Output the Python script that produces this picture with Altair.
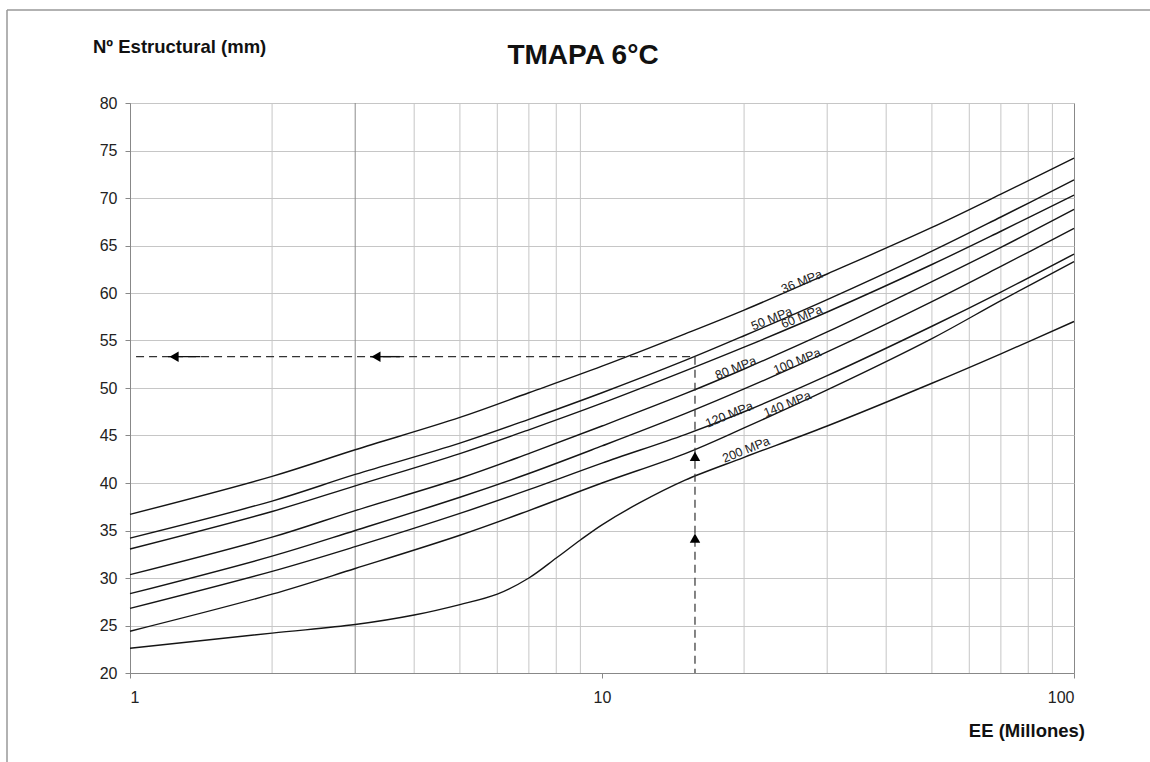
import altair as alt
import pandas as pd

# ---- data ----
EE = [1, 2, 3, 5, 7, 10, 15, 20, 30, 50, 70, 100]
MPA_36 = [36.7, 40.7, 43.5, 46.9, 49.5, 52.3, 55.7, 58.2, 62.0, 66.9, 70.4, 74.2]
MPA_50 = [34.2, 38.1, 40.9, 44.2, 46.7, 49.5, 52.9, 55.5, 59.3, 64.4, 68.0, 71.9]
MPA_60 = [33.05, 37.0, 39.7, 43.1, 45.6, 48.4, 51.8, 54.3, 58.0, 63.0, 66.5, 70.3]
MPA_80 = [30.35, 34.3, 37.1, 40.5, 43.1, 46.0, 49.4, 52.0, 55.9, 61.2, 64.8, 68.8]
MPA_100 = [28.35, 32.3, 35.0, 38.5, 41.0, 43.9, 47.3, 49.9, 53.8, 59.1, 62.8, 66.8]
MPA_120 = [26.8, 30.7, 33.3, 36.8, 39.3, 42.1, 45.1, 47.5, 51.3, 56.5, 60.1, 64.1]
MPA_140 = [24.4, 28.3, 31.0, 34.5, 37.1, 40.0, 43.1, 45.8, 49.8, 55.2, 59.2, 63.3]
EE_200 = [1, 2, 3, 4, 5, 6, 7, 8, 9, 10, 12, 15, 20, 30, 50, 70, 100]
MPA_200 = [22.6, 24.2, 25.1, 26.1, 27.2, 28.3, 30.0, 32.1, 34.0, 35.6, 37.9, 40.3,
           42.7, 46.0, 50.5, 53.6, 57.0]

LABELS = ["36 MPa", "50 MPa", "60 MPa", "80 MPa", "100 MPa", "120 MPa", "140 MPa", "200 MPa"]
LABEL_X = [26.5, 22.9, 26.5, 19.2, 25.9, 18.6, 24.7, 20.2]
LABEL_Y = [61.2, 57.3, 57.5, 52.1, 52.8, 47.2, 48.3, 43.5]

Y_TICKS = [20, 25, 30, 35, 40, 45, 50, 55, 60, 65, 70, 75, 80]
X_TICKS = [1, 10, 100]
GRID_X = [2, 4, 5, 6, 7, 8, 9, 20, 30, 40, 50, 60, 70, 80, 90]
GRID_X_DARK = [3]

# design example path (dashed) and arrows
EE_DESIGN = 15.74
SN_DESIGN = 53.3
DASH_X = [1.03, EE_DESIGN, EE_DESIGN, EE_DESIGN]
DASH_Y = [SN_DESIGN, SN_DESIGN, SN_DESIGN, 20]
DASH_SEG = ["h", "h", "v", "v"]
STEM_X = [1.204, 1.41, 3.23, 3.73]
STEM_Y = [SN_DESIGN] * 4
STEM_SEG = ["a", "a", "b", "b"]
LEFT_ARROW_X = [1.24, 3.32]
UP_ARROW_Y = [34.2, 42.8]

# ---- build tables ----
series = [("36", EE, MPA_36), ("50", EE, MPA_50), ("60", EE, MPA_60), ("80", EE, MPA_80),
          ("100", EE, MPA_100), ("120", EE, MPA_120), ("140", EE, MPA_140),
          ("200", EE_200, MPA_200)]
rows = []
for name, xs, ys in series:
    for i, (xv, yv) in enumerate(zip(xs, ys)):
        rows.append({"curve": name, "x": xv, "y": yv, "o": i})
curves = pd.DataFrame(rows)
labels = pd.DataFrame({"x": LABEL_X, "y": LABEL_Y, "t": LABELS})
grid = pd.DataFrame({"x": GRID_X})
grid_dark = pd.DataFrame({"x": GRID_X_DARK})
dash = pd.DataFrame({"x": DASH_X, "y": DASH_Y, "seg": DASH_SEG, "o": list(range(4))})
stems = pd.DataFrame({"x": STEM_X, "y": STEM_Y, "seg": STEM_SEG, "o": list(range(4))})
larrows = pd.DataFrame({"x": LEFT_ARROW_X, "y": [SN_DESIGN] * 2})
uarrows = pd.DataFrame({"x": [EE_DESIGN] * 2, "y": UP_ARROW_Y})
one = pd.DataFrame({"k": [0]})

W, H = 944, 570
FONT = "Liberation Sans"

xscale = alt.Scale(type="log", domain=[1, 100], nice=False)
yscale = alt.Scale(domain=[20, 80], nice=False, zero=False)

X_AXIS = alt.Axis(values=X_TICKS, format="d", grid=False, title=None,
                  tickSize=5, labelPadding=11, labelFont=FONT, labelFontSize=16,
                  labelColor="#222", tickColor="#888", domainColor="#888")
Y_AXIS = alt.Axis(values=Y_TICKS, grid=True, gridColor="#c6c6c6", title=None,
                  tickSize=5, labelPadding=8, labelFont=FONT, labelFontSize=16,
                  labelColor="#222", tickColor="#888", domainColor="#888")

grid_layer = alt.Chart(grid).mark_rule(color="#c6c6c6", strokeWidth=1).encode(
    x=alt.X("x:Q", scale=xscale, axis=X_AXIS), y=alt.value(0), y2=alt.value(H))
grid_dark_layer = alt.Chart(grid_dark).mark_rule(color="#8c8c8c", strokeWidth=1).encode(
    x=alt.X("x:Q", scale=xscale, axis=X_AXIS), y=alt.value(0), y2=alt.value(H))

lines = alt.Chart(curves).mark_line(color="#151515", strokeWidth=1.4,
                                    interpolate="catmull-rom").encode(
    x=alt.X("x:Q", scale=xscale, axis=X_AXIS),
    y=alt.Y("y:Q", scale=yscale, axis=Y_AXIS),
    detail="curve:N", order="o:Q")

dashed = alt.Chart(dash).mark_line(color="#333", strokeWidth=1.2,
                                   strokeDash=[8, 5]).encode(
    x=alt.X("x:Q", scale=xscale, axis=X_AXIS), y=alt.Y("y:Q", scale=yscale, axis=Y_AXIS),
    detail="seg:N", order="o:Q")
stem_layer = alt.Chart(stems).mark_line(color="#111", strokeWidth=1.4).encode(
    x=alt.X("x:Q", scale=xscale, axis=X_AXIS), y=alt.Y("y:Q", scale=yscale, axis=Y_AXIS),
    detail="seg:N", order="o:Q")
left_arrows = alt.Chart(larrows).mark_point(shape="triangle-left", filled=True,
                                            color="#000", opacity=1, size=110).encode(
    x=alt.X("x:Q", scale=xscale, axis=X_AXIS), y=alt.Y("y:Q", scale=yscale, axis=Y_AXIS))
up_arrows = alt.Chart(uarrows).mark_point(shape="triangle-up", filled=True,
                                          color="#000", opacity=1, size=110).encode(
    x=alt.X("x:Q", scale=xscale, axis=X_AXIS), y=alt.Y("y:Q", scale=yscale, axis=Y_AXIS))

label_layer = alt.Chart(labels).mark_text(font=FONT, fontSize=12.5, angle=338,
                                          color="#222", align="center",
                                          baseline="middle").encode(
    x=alt.X("x:Q", scale=xscale, axis=X_AXIS), y=alt.Y("y:Q", scale=yscale, axis=Y_AXIS),
    text="t:N")

title = alt.Chart(one).mark_text(text="TMAPA 6°C", font=FONT, fontSize=28,
                                 fontWeight="bold", color="#111", align="center",
                                 baseline="middle").encode(
    x=alt.value(453), y=alt.value(-47))
ytitle = alt.Chart(one).mark_text(text="Nº Estructural (mm)", font=FONT, fontSize=18.5,
                                  fontWeight="bold", color="#111", align="left",
                                  baseline="middle").encode(
    x=alt.value(-37), y=alt.value(-56))
xtitle = alt.Chart(one).mark_text(text="EE (Millones)", font=FONT, fontSize=18.5,
                                  fontWeight="bold", color="#111", align="right",
                                  baseline="middle").encode(
    x=alt.value(955), y=alt.value(H + 58))

frame_top = alt.Chart(one).mark_rule(color="#999", strokeWidth=1.5).encode(
    x=alt.value(-123), x2=alt.value(1025), y=alt.value(-93))
frame_left = alt.Chart(one).mark_rule(color="#999", strokeWidth=1.5).encode(
    x=alt.value(-123), y=alt.value(-93), y2=alt.value(H + 95))

chart = alt.layer(
    grid_layer, grid_dark_layer, lines, dashed, stem_layer, left_arrows, up_arrows,
    label_layer, title, ytitle, xtitle, frame_top, frame_left
).properties(
    width=W, height=H,
    autosize=alt.AutoSizeParams(type="none"),
    padding={"left": 130, "top": 103, "right": 76, "bottom": 89},
    background="white",
).configure_view(stroke="#888", strokeWidth=1)

chart.save("out.html", embed_options={"renderer": "svg", "actions": False})
